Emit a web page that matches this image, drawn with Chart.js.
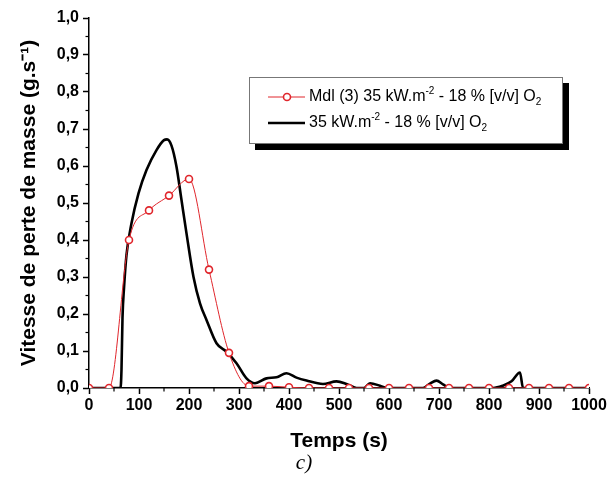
<!DOCTYPE html>
<html><head><meta charset="utf-8">
<script src="https://cdn.jsdelivr.net/npm/chart.js@4"></script>
<style>html,body{margin:0;padding:0;background:#fff}#wrap{position:relative;width:609px;height:484px}</style>
</head><body><div id="wrap"><canvas id="c" width="609" height="484"></canvas></div>
<script>
// ---- data ----
const redTimes  = [0,40,80,120,160,200,240,280,320,360,400,440,480,520,560,600,640,680,720,760,800,840,880,920,960,1000];
const redValues = [0,0,0.40,0.48,0.52,0.565,0.32,0.095,0.005,0.005,0.002,0,0,0,0,0,0,0,0,0,0,0,0,0,0,0];
const blackTimes  = [0,63,65,67,70,75,85,99,115,135,150,156,165,175,185,195,209,222,235,255,275,295,315,332,355,375,395,415,435,468,495,515,535,550,562,582,595,668,682,695,708,722,808,827,845,862,868,1000];
const blackValues = [0,0,0.05,0.19,0.27,0.36,0.445,0.526,0.589,0.643,0.670,0.672,0.655,0.598,0.508,0.418,0.30,0.229,0.184,0.121,0.098,0.067,0.026,0.013,0.026,0.029,0.040,0.028,0.020,0.011,0.018,0.011,0,0,0.013,0.006,0,0,0.012,0.020,0.010,0,0,0.006,0.018,0.042,0,0];
const seriesLabels = ['Mdl (3) 35 kW.m^{-2} - 18 % [v/v] O_{2}', '35 kW.m^{-2} - 18 % [v/v] O_{2}'];
const xTitle = 'Temps (s)';
const yTitle = 'Vitesse de perte de masse (g.s\u207B\u00B9)';
const panelLabel = 'c)';
const xRange = [0, 1000, 100];
const yRange = [0, 1, 0.1];

const FONT = '"Liberation Sans", Arial, sans-serif';

function drawRich(ctx, text, x, y, size){
  const parts = text.split(/(\^\{[^}]*\}|_\{[^}]*\})/).filter(s=>s.length);
  ctx.textAlign='left'; ctx.textBaseline='middle';
  for(const p of parts){
    let t=p, dy=0, fs=size;
    if(p.startsWith('^{')){t=p.slice(2,-1); fs=Math.round(size*0.62); dy=-size*0.38;}
    else if(p.startsWith('_{')){t=p.slice(2,-1); fs=Math.round(size*0.62); dy=size*0.32;}
    ctx.font = fs+'px '+FONT;
    ctx.fillText(t, x, y+dy);
    x += ctx.measureText(t).width;
  }
}

const boxLegend = {
  id:'boxLegend',
  afterDatasetsDraw(chart){
    const ctx = chart.ctx;
    ctx.save();
    const bx=249, by=77, bw=314, bh=67;
    ctx.fillStyle='#000'; ctx.fillRect(bx+6,by+6,bw,bh);
    ctx.fillStyle='#fff'; ctx.fillRect(bx,by,bw,bh);
    ctx.strokeStyle='#777'; ctx.lineWidth=1; ctx.strokeRect(bx+0.5,by+0.5,bw-1,bh-1);
    chart.data.datasets.forEach((ds,i)=>{
      const y = by + 20 + i*26;
      ctx.strokeStyle=ds.borderColor; ctx.lineWidth=ds.borderWidth;
      ctx.beginPath(); ctx.moveTo(268,y); ctx.lineTo(305,y); ctx.stroke();
      if(ds.pointRadius>0){
        ctx.beginPath(); ctx.arc(287,y,ds.pointRadius,0,Math.PI*2);
        ctx.fillStyle='#fff'; ctx.fill();
        ctx.lineWidth=ds.pointBorderWidth; ctx.strokeStyle=ds.pointBorderColor; ctx.stroke();
      }
      ctx.fillStyle='#000';
      drawRich(ctx, ds.label, 309, y, 16);
    });
    ctx.restore();
  }
};

const minorTicks = {
  id:'minorTicks',
  afterDraw(chart){
    const {ctx, scales:{x,y}} = chart;
    ctx.save(); ctx.strokeStyle='#000'; ctx.lineWidth=1.2;
    for(let v=xRange[0]+xRange[2]/2; v<xRange[1]; v+=xRange[2]){
      const px=x.getPixelForValue(v);
      ctx.beginPath(); ctx.moveTo(px,y.bottom); ctx.lineTo(px,y.bottom+3.5); ctx.stroke();
    }
    for(let k=0;k<10;k++){
      const v=yRange[0]+yRange[2]*(k+0.5);
      const py=y.getPixelForValue(v);
      ctx.beginPath(); ctx.moveTo(x.left-3.5,py); ctx.lineTo(x.left,py); ctx.stroke();
    }
    ctx.fillStyle='#000';
    ctx.font='italic 21px "Liberation Serif", "Times New Roman", serif';
    ctx.textAlign='center'; ctx.textBaseline='middle';
    ctx.fillText(panelLabel, 304, 463);
    ctx.restore();
  }
};

const red = redTimes.map((t,i)=>({x:t,y:redValues[i]}));
const black = blackTimes.map((t,i)=>({x:t,y:blackValues[i]}));

new Chart(document.getElementById('c'), {
  type:'line',
  data:{datasets:[
    {label:seriesLabels[0], data:red, borderColor:'#e0262c', borderWidth:1, cubicInterpolationMode:'monotone',
     pointRadius:3.5, pointBorderWidth:1.6, pointBorderColor:'#e0262c', pointBackgroundColor:'#fff', pointHoverRadius:3.5},
    {label:seriesLabels[1], data:black, borderColor:'#000', borderWidth:2.6, cubicInterpolationMode:'monotone',
     pointRadius:0}
  ]},
  options:{
    responsive:false, animation:false, devicePixelRatio:1,
    layout:{padding:{top:18,right:20,left:0,bottom:0}},
    plugins:{legend:{display:false}, tooltip:{enabled:false}},
    scales:{
      x:{type:'linear', min:xRange[0], max:xRange[1],
        ticks:{stepSize:xRange[2], color:'#000', padding:2, maxRotation:0, font:{family:FONT,size:16,weight:'bold'},
          callback:v=>String(v)},
        grid:{drawOnChartArea:false, drawTicks:true, tickLength:6, tickColor:'#000', tickWidth:1.5},
        border:{display:true,color:'#000',width:1.5},
        title:{display:true,text:xTitle,color:'#000',font:{family:FONT,size:21,weight:'bold'},padding:{top:0,bottom:30}},
        afterFit(s){s.height=96;}
      },
      y:{type:'linear', min:yRange[0], max:yRange[1],
        ticks:{stepSize:yRange[2], color:'#000', padding:4, font:{family:FONT,size:16,weight:'bold'},
          callback:v=>v.toFixed(1).replace('.',',')},
        grid:{drawOnChartArea:false, drawTicks:true, tickLength:6, tickColor:'#000', tickWidth:1.5},
        border:{display:true,color:'#000',width:1.5},
        title:{display:true,text:yTitle,color:'#000',font:{family:FONT,size:21,weight:'bold'},padding:{top:17,bottom:0}},
        afterFit(s){s.width=89;}
      }
    }
  },
  plugins:[boxLegend, minorTicks]
});
</script></body></html>
